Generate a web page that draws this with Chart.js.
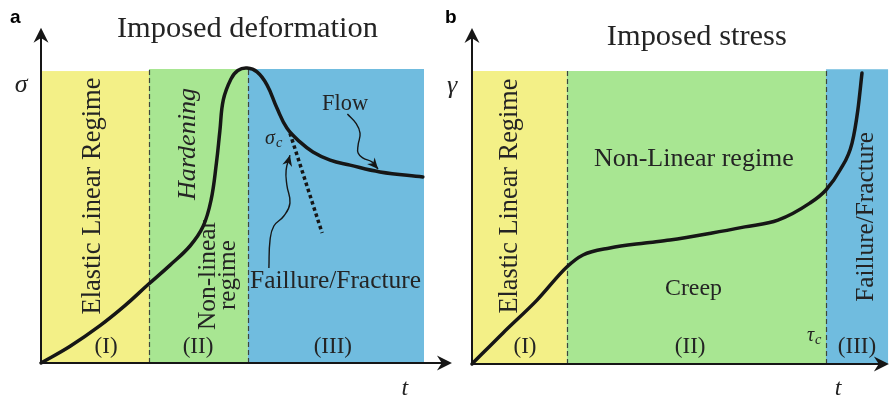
<!DOCTYPE html>
<html>
<head>
<meta charset="utf-8">
<script src="https://cdn.jsdelivr.net/npm/chart.js@4"></script>
<style>
  html, body { margin: 0; padding: 0; background: #fff; }
  #wrap { position: relative; width: 890px; height: 396px; overflow: hidden; }
  canvas { position: absolute; top: 0; }
  #panelA { left: 0; }
  #panelB { left: 445px; }
</style>
</head>
<body>
<div id="wrap">
  <canvas id="panelA" width="460" height="396"></canvas>
  <canvas id="panelB" width="445" height="396"></canvas>
</div>
<script>
// ---------- Panel a: imposed deformation, stress vs time ----------
const deformT      = [0, 7.6, 15.4, 21.9, 27.9, 33.7, 38.9, 42.3, 44.4, 45.8, 46.7, 47.6, 49.6, 51.4, 53.8, 56.4, 59.0, 61.6, 64.2, 67.6, 71.0, 75.5, 80.7, 88.5, 99.7];
const deformStress = [0, 5.7, 12.7, 19.5, 26.6, 33.3, 39.8, 46.4, 55.4, 68.0, 78.9, 89.5, 96.6, 99.5, 100.3, 99.0, 94.6, 86.7, 79.9, 75.2, 71.8, 69.0, 67.3, 65.0, 63.3];
// brittle branch leaving the curve at sigma_c
const fractureT      = [65.0, 73.4];
const fractureStress = [78.2, 44.2];
// regime boundaries (t) and top of each band
const regimeEdgesA = [0, 28.2, 54.0, 100];
const regimeTopsA  = [99.3, 100, 100];
// pointer arrows: "Flow" -> curve, "Faillure/Fracture" -> sigma_c
const flowPtrT = [80.0, 82.2, 83.3, 82.8, 82.8, 84.1, 86.4, 88.0];
const flowPtrV = [84.7, 81.6, 78.2, 74.1, 71.4, 69.7, 68.4, 66.0];
const failPtrT = [59.5, 59.8, 60.8, 63.4, 65.0, 64.2, 64.0, 65.0];
const failPtrV = [32.3, 41.8, 46.6, 50.0, 54.4, 60.5, 65.6, 70.7];

// ---------- Panel b: imposed stress, strain vs time ----------
const creepT      = [0, 7.5, 15.7, 22.9, 26.8, 33.3, 41.8, 47.8, 58.0, 65.9, 73.9, 81.6, 85.5, 88.9, 91.8, 93.2, 94.2];
const creepStrain = [0, 10.6, 21.8, 33.1, 37.2, 39.6, 41.3, 42.3, 44.7, 46.8, 49.1, 54.9, 59.4, 66.2, 75.4, 86.7, 99.3];
const regimeEdgesB = [0, 22.9, 85.5, 100.5];
const regimeTopsB  = [100, 100, 100.6];

// ---------- styles ----------
const SERIF = "'Liberation Serif', 'Times New Roman', serif";
const SANS  = "'Liberation Sans', Arial, sans-serif";
const INK   = '#161616';
const TEXT  = '#242424';
const BANDS = ['#F3F087', '#A8E692', '#70BCDF'];

const pts = (xs, ys) => xs.map((x, i) => ({ x, y: ys[i] }));

function stealth(ctx, tx, ty, ang, len, half) {
  ctx.save();
  ctx.translate(tx, ty);
  ctx.rotate(ang);
  ctx.beginPath();
  ctx.moveTo(0, 0);
  ctx.lineTo(-len, -half);
  ctx.lineTo(-len * 0.68, 0);
  ctx.lineTo(-len, half);
  ctx.closePath();
  ctx.fill();
  ctx.restore();
}

function drawLabel(ctx, chart, L) {
  const X = chart.scales.x.getPixelForValue(L.x);
  const Y = chart.scales.y.getPixelForValue(L.y);
  const fam = L.family || SERIF;
  const st = L.style || '';
  let size = L.size || 23;
  ctx.save();
  ctx.translate(X, Y);
  if (L.rot) ctx.rotate(-Math.PI / 2);
  if (L.w) {
    ctx.font = `${st} 100px ${fam}`;
    size = 100 * L.w / ctx.measureText(L.text).width;
  }
  ctx.font = `${st} ${size}px ${fam}`;
  ctx.fillStyle = L.color || TEXT;
  ctx.textAlign = L.align || 'center';
  ctx.textBaseline = 'alphabetic';
  ctx.fillText(L.text, 0, 0);
  if (L.sub) {
    const w = ctx.measureText(L.text).width;
    ctx.font = `italic ${size * 0.72}px ${fam}`;
    ctx.textAlign = 'left';
    ctx.fillText(L.sub, w + 1, size * 0.14);
  }
  ctx.restore();
}

const sketchPlugin = {
  id: 'sketch',
  beforeDatasetsDraw(chart, args, o) {
    const { ctx } = chart;
    const sx = chart.scales.x, sy = chart.scales.y;
    // coloured regime bands
    for (let i = 0; i < o.edges.length - 1; i++) {
      const x0 = sx.getPixelForValue(o.edges[i]);
      const x1 = sx.getPixelForValue(o.edges[i + 1]);
      const y0 = sy.getPixelForValue(o.tops[i]);
      const y1 = sy.getPixelForValue(0);
      ctx.fillStyle = BANDS[i];
      ctx.fillRect(x0, y0, x1 - x0, y1 - y0);
    }
    // dashed separators between regimes
    ctx.save();
    ctx.strokeStyle = '#3c463c';
    ctx.lineWidth = 1.2;
    ctx.setLineDash([5, 3]);
    for (let i = 1; i < o.edges.length - 1; i++) {
      const x = Math.round(sx.getPixelForValue(o.edges[i])) + 0.5;
      ctx.beginPath();
      ctx.moveTo(x, sy.getPixelForValue(0));
      ctx.lineTo(x, sy.getPixelForValue(Math.max(o.tops[i - 1], o.tops[i])));
      ctx.stroke();
    }
    ctx.restore();
    o.labels.forEach(L => drawLabel(ctx, chart, L));
  },
  afterDatasetsDraw(chart, args, o) {
    const { ctx } = chart;
    const sx = chart.scales.x, sy = chart.scales.y;
    const ox = sx.getPixelForValue(0), oy = sy.getPixelForValue(0);
    const yTop = sy.getPixelForValue(o.yTip), xEnd = sx.getPixelForValue(o.xTip);
    ctx.save();
    ctx.strokeStyle = INK;
    ctx.fillStyle = INK;
    ctx.lineWidth = 2;
    ctx.beginPath();
    ctx.moveTo(ox, oy); ctx.lineTo(ox, yTop + 8);
    ctx.moveTo(ox, oy); ctx.lineTo(xEnd - 8, oy);
    ctx.stroke();
    stealth(ctx, ox, yTop, -Math.PI / 2, 15, 7.5);
    stealth(ctx, xEnd, oy, 0, 15, 7.5);
    // heads on the pointer arrows
    (o.heads || []).forEach(i => {
      const meta = chart.getDatasetMeta(i);
      const p = meta.data[meta.data.length - 1];
      const q = meta.data[meta.data.length - 2];
      const cx = (p.cp1x !== undefined) ? p.cp1x : q.x;
      const cy = (p.cp1y !== undefined) ? p.cp1y : q.y;
      const ang = Math.atan2(p.y - cy, p.x - cx);
      stealth(ctx, p.x, p.y, ang, 11, 5);
    });
    ctx.restore();
  }
};

function makeChart(id, datasets, pad, sketch) {
  return new Chart(document.getElementById(id), {
    type: 'line',
    data: { datasets },
    options: {
      responsive: false,
      animation: false,
      events: [],
      layout: { padding: pad },
      elements: { point: { radius: 0 } },
      plugins: { legend: { display: false }, tooltip: { enabled: false }, sketch },
      scales: {
        x: { type: 'linear', min: 0, max: 100, display: false },
        y: { type: 'linear', min: 0, max: 100, display: false }
      }
    },
    plugins: [sketchPlugin]
  });
}

const curveStyle = { borderColor: INK, borderWidth: 3.5, clip: false, fill: false, borderCapStyle: 'round', borderJoinStyle: 'round' };
const pointerStyle = { borderColor: INK, borderWidth: 1.4, tension: 0.45, clip: false, fill: false };

makeChart('panelA', [
  { ...curveStyle, tension: 0.4, data: pts(deformT, deformStress) },
  { borderColor: INK, borderWidth: 3.5, borderDash: [3.5, 3], borderCapStyle: 'butt', clip: false, data: pts(fractureT, fractureStress) },
  { ...pointerStyle, data: pts(flowPtrT, flowPtrV) },
  { ...pointerStyle, data: pts(failPtrT, failPtrV) }
], { left: 41, right: 36, top: 69, bottom: 33 }, {
  edges: regimeEdgesA, tops: regimeTopsA, yTip: 114, xTip: 107.3, heads: [2, 3],
  labels: [
    { text: 'a', x: -8.1, y: 115.6, family: SANS, style: 'bold', size: 19, align: 'left', color: '#000' },
    { text: 'Imposed deformation', x: 53.9, y: 110.9, w: 261 },
    { text: 'σ', x: -5.2, y: 92.2, style: 'italic', size: 26 },
    { text: 't', x: 95.0, y: -10.9, style: 'italic', size: 24 },
    { text: 'Elastic Linear Regime', x: 15.4, y: 56.8, rot: true, w: 237 },
    { text: 'Hardening', x: 40.2, y: 74.5, rot: true, w: 112, style: 'italic' },
    { text: 'Non-linear', x: 45.4, y: 29.9, rot: true, w: 110 },
    { text: 'regime', x: 50.7, y: 29.9, rot: true, w: 70 },
    { text: '(I)', x: 17.0, y: 3.4 },
    { text: '(II)', x: 41.0, y: 3.4 },
    { text: '(III)', x: 76.2, y: 3.4 },
    { text: 'Flow', x: 79.4, y: 86.1, w: 46 },
    { text: 'σ', sub: 'c', x: 58.5, y: 74.5, style: 'italic', size: 20, align: 'left' },
    { text: 'Faillure/Fracture', x: 76.9, y: 25.5, w: 171 }
  ]
});

makeChart('panelB', [
  { ...curveStyle, cubicInterpolationMode: 'monotone', data: pts(creepT, creepStrain) }
], { left: 27, right: 4, top: 71, bottom: 32 }, {
  edges: regimeEdgesB, tops: regimeTopsB, yTip: 114.7, xTip: 100.7,
  labels: [
    { text: 'b', x: -6.5, y: 116.4, family: SANS, style: 'bold', size: 19, align: 'left', color: '#000' },
    { text: 'Imposed stress', x: 54.3, y: 108.9, w: 180 },
    { text: 'γ', x: -4.8, y: 92.5, style: 'italic', size: 26 },
    { text: 't', x: 88.4, y: -10.6, style: 'italic', size: 24 },
    { text: 'Elastic Linear Regime', x: 10.9, y: 57.3, rot: true, w: 235 },
    { text: 'Non-Linear regime', x: 53.6, y: 67.6, w: 200 },
    { text: 'Creep', x: 53.5, y: 23.5, w: 57 },
    { text: '(I)', x: 12.8, y: 3.75 },
    { text: '(II)', x: 52.7, y: 3.75 },
    { text: '(III)', x: 93.0, y: 3.75 },
    { text: 'τ', sub: 'c', x: 80.9, y: 7.8, style: 'italic', size: 20, align: 'left' },
    { text: 'Faillure/Fracture', x: 96.9, y: 50.2, rot: true, w: 170 }
  ]
});
</script>
</body>
</html>
